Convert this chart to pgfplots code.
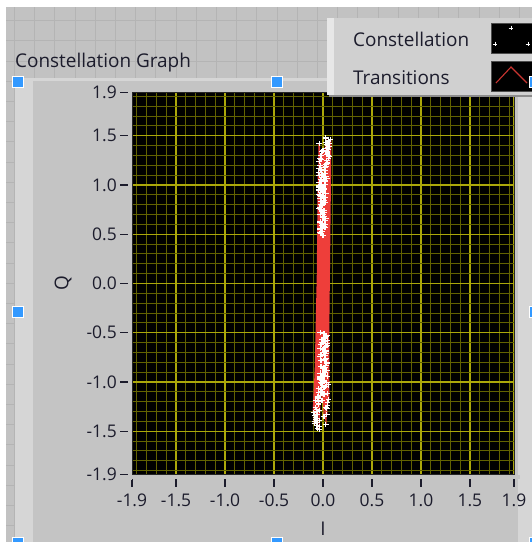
\documentclass[border=0pt]{standalone}
\usepackage{fontspec}
\setmainfont{Open Sans}
\usepackage{pgfplots}
\usepackage{pgfplotstable}
\pgfplotsset{compat=1.18}

\definecolor{windowbg}{RGB}{194,194,194}
\definecolor{windowgrid}{RGB}{180,180,180}
\definecolor{panelbg}{RGB}{196,196,196}
\definecolor{panellight}{RGB}{214,214,214}
\definecolor{legendbg}{RGB}{208,208,208}
\definecolor{labeltext}{RGB}{28,28,44}
\definecolor{gridmajor}{RGB}{172,168,10}
\definecolor{gridminor}{RGB}{98,98,0}
\definecolor{transred}{RGB}{238,62,58}
\definecolor{handleblue}{RGB}{51,153,255}

\newcommand\uifont{\fontsize{19}{22}\selectfont}
\newcommand\tickfont{\fontsize{17.5}{20}\selectfont}

% received symbols (I, Q), in the order they arrive
\pgfplotstableread{
I Q
0.02 1.05
-0.03 -0.91
0.05 1.33
0.01 -1.13
-0.04 0.76
0.03 -0.64
0.06 1.45
-0.07 -1.37
0.00 0.94
0.02 0.60
-0.01 -0.98
0.03 1.19
-0.05 -1.22
0.01 0.84
0.02 -0.55
-0.03 1.27
0.04 -0.80
-0.02 0.51
-0.09 -1.42
0.07 1.39
0.01 -1.06
-0.04 1.10
0.03 -0.71
0.00 0.67
-0.04 -1.29
0.05 1.23
-0.01 -0.60
-0.04 0.98
0.05 -0.94
0.03 1.48
-0.08 -1.19
-0.01 0.79
0.04 -1.33
-0.05 1.13
0.02 -0.85
0.02 0.57
-0.03 -0.50
0.00 1.35
-0.06 -1.47
-0.02 0.88
0.04 -1.01
0.06 1.30
0.00 -0.67
-0.03 0.63
-0.06 -1.15
0.02 1.04
0.03 -0.76
-0.04 1.42
-0.04 -1.39
0.01 0.72
0.05 -0.58
-0.02 1.16
-0.02 -1.08
0.03 0.91
-0.08 -1.26
-0.01 1.34
0.02 -0.90
-0.03 0.55
0.05 -1.21
0.08 1.46
-0.03 -0.74
-0.02 1.00
0.03 -1.43
0.02 0.82
-0.02 -0.62
-0.04 1.24
0.01 -0.99
0.03 0.66
-0.10 -1.31
0.02 1.15
0.04 -0.81
-0.03 0.77
-0.01 -1.10
0.05 1.40
0.02 -0.56
-0.05 0.95
-0.07 -1.44
0.03 1.21
0.03 -0.69
-0.01 0.59
-0.05 -1.17
0.04 1.07
0.00 -0.86
-0.02 1.30
0.06 -1.03
0.00 0.70
-0.08 -1.36
-0.03 0.86
0.02 -0.65
0.04 1.37
-0.03 -0.95
0.00 0.49
0.03 -1.26
-0.04 1.03
-0.02 -0.78
0.06 1.27
0.04 -0.53
-0.02 0.80
-0.05 -1.23
0.03 1.43
-0.01 1.11
0.01 0.96
-0.02 -0.72
0.05 -1.12
-0.03 0.62
0.07 1.42
-0.06 -1.33
0.01 0.74
0.02 -0.59
0.04 1.25
-0.09 -1.40
-0.04 0.90
0.00 -0.92
0.02 1.18
0.03 -1.05
-0.01 0.53
-0.03 -0.66
0.05 1.32
-0.07 -1.28
-0.02 0.83
0.03 -0.83
0.01 1.08
-0.01 -1.19
-0.03 0.70
0.05 -0.61
0.06 1.36
-0.04 -1.45
0.00 0.92
0.01 -0.51
-0.03 1.20
-0.02 -1.01
0.02 0.64
0.04 -0.88
0.03 1.47
-0.06 -1.16
-0.04 0.99
0.02 -0.73
0.07 1.29
-0.08 -1.38
0.01 0.58
-0.01 -0.57
-0.02 1.06
0.05 -1.24
0.02 0.87
-0.03 -0.97
0.04 1.41
-0.05 -1.11
-0.01 0.73
0.03 -0.68
-0.04 1.17
0.01 -1.35
0.02 1.01
-0.02 -0.84
-0.03 0.56
0.06 -1.18
0.05 1.34
-0.07 -1.30
0.00 0.81
0.04 -0.63
-0.02 1.26
-0.04 -1.48
0.01 0.68
0.01 -0.93
0.06 1.44
-0.05 -1.07
-0.03 0.89
0.03 -0.54
0.02 1.12
-0.09 -1.34
-0.01 0.61
0.02 -0.77
0.04 1.22
-0.03 -1.14
0.00 0.97
-0.06 -1.41
0.05 1.38
0.01 -0.70
-0.02 0.75
-0.01 -1.02
0.03 1.09
0.04 -1.27
-0.03 0.52
0.00 -0.60
0.04 1.31
-0.05 -1.20
}\symbols

\begin{document}
\begin{tikzpicture}
\path[use as bounding box] (0,0) rectangle (532bp,-542bp);

% front panel with its alignment grid
\begin{scope}[x=1bp,y=-1bp]
  \fill[white] (0,0) rectangle (532,542);
  \fill[windowbg] (6,7) rectangle (532,542);
  \foreach \gx in {14,34,54,75,95,115,135,155,176,196,216,236,256,277,297,317,337,357,378,398,418,438,458,479,499,519}
    \draw[windowgrid, line width=0.9bp] (\gx,7) -- (\gx,542);
  \foreach \gy in {20,40,61,81,101,121,141,162,182,202,222,242,263,283,303,323,343,364,384,404,424,444,465,485,505,525}
    \draw[windowgrid, line width=0.9bp] (6,\gy) -- (532,\gy);
  % graph control
  \fill[panelbg] (15,78) rectangle (532,542);
  \fill[panellight] (15,78) rectangle (33,542);
  \fill[panellight] (518,78) rectangle (532,542);
  \fill[panellight] (15,78) rectangle (532,81);
  \node[anchor=base west, font=\uifont, text=labeltext, inner sep=0pt] at (15,67) {Constellation Graph};
  \node[font=\uifont, text=labeltext, rotate=90] at (63,283) {Q};
  \node[font=\uifont, text=labeltext] at (323,529) {I};
\end{scope}

\begin{axis}[
  at={(132bp,-474.5bp)}, anchor=south west,
  scale only axis, width=382bp, height=382bp,
  xmin=-1.95, xmax=1.95, ymin=-1.94, ymax=1.94,
  axis background/.style={fill=black},
  axis line style={draw=black!85, line width=0.8bp},
  xtick={-1.95,-1.5,-1,-0.5,0,0.5,1,1.5,1.95},
  xticklabels={-1.9,-1.5,-1.0,-0.5,0.0,0.5,1.0,1.5,1.9},
  ytick={-1.94,-1.5,-1,-0.5,0,0.5,1,1.5,1.94},
  yticklabels={-1.9,-1.5,-1.0,-0.5,0.0,0.5,1.0,1.5,1.9},
  minor xtick={-1.9,-1.8,-1.7,-1.6,-1.4,-1.3,-1.2,-1.1,-0.9,-0.8,-0.7,-0.6,-0.4,-0.3,-0.2,-0.1,0.1,0.2,0.3,0.4,0.6,0.7,0.8,0.9,1.1,1.2,1.3,1.4,1.6,1.7,1.8,1.9},
  minor ytick={-1.9,-1.8,-1.7,-1.6,-1.4,-1.3,-1.2,-1.1,-0.9,-0.8,-0.7,-0.6,-0.4,-0.3,-0.2,-0.1,0.1,0.2,0.3,0.4,0.6,0.7,0.8,0.9,1.1,1.2,1.3,1.4,1.6,1.7,1.8,1.9},
  grid=both,
  major grid style={draw=gridmajor, line width=1.2bp},
  minor grid style={draw=gridminor, line width=1bp},
  tick align=outside,
  xtick pos=bottom, ytick pos=left,
  major tick length=12bp, minor tick length=0pt,
  tick style={draw=labeltext, line width=1.3bp},
  tick label style={font=\tickfont, text=labeltext, inner sep=0pt},
  xticklabel style={yshift=-7bp},
  yticklabel style={xshift=-3bp},
]
  % transitions between successive symbols
  \addplot[transred, line width=1.2bp] table[x=I, y=Q] {\symbols};
  % constellation points
  \addplot[only marks, mark=+, mark size=2.6bp, white, line width=1.1bp] table[x=I, y=Q] {\symbols};
\end{axis}

% gap between the scale marks and the plot area
\begin{scope}[x=1bp,y=-1bp]
  \fill[panelbg] (127.6,86) rectangle (131.5,480);
  \fill[panelbg] (126,475) rectangle (520,478.5);
\end{scope}

% plot legend
\begin{scope}[x=1bp,y=-1bp]
  \fill[black!45] (329,20) rectangle (532,97);
  \fill[legendbg] (327,18) rectangle (532,95);
  \fill[panellight!60!white] (327,18) rectangle (334,95);
  \node[anchor=base west, font=\uifont, text=labeltext, inner sep=0pt] at (353,46) {Constellation};
  \node[anchor=base west, font=\uifont, text=labeltext, inner sep=0pt] at (353,84.5) {Transitions};
\end{scope}

\begin{axis}[
  at={(491bp,-53bp)}, anchor=south west,
  scale only axis, width=41bp, height=30bp,
  xmin=0, xmax=41, ymin=0, ymax=30,
  axis background/.style={fill=black},
  axis line style={draw=black!70},
  ticks=none,
]
  \addplot[only marks, mark=+, mark size=2.3bp, white, line width=1bp] coordinates {(20,25) (4,9) (37,9)};
\end{axis}

\begin{axis}[
  at={(491bp,-91bp)}, anchor=south west,
  scale only axis, width=41bp, height=30bp,
  xmin=0, xmax=41, ymin=0, ymax=30,
  axis background/.style={fill=black},
  axis line style={draw=black!70},
  ticks=none,
]
  \addplot[transred!85!black, line width=1.1bp] coordinates {(5,8) (20,24) (36,8)};
\end{axis}

% selection handles
\begin{scope}[x=1bp,y=-1bp]
  \foreach \hx/\hy/\hw/\hh in {12.5/76.5/11/11, 271.5/76.5/11/11, 529/76.5/3/11, 12.5/306.5/11/11, 529/306.5/3/11, 12.5/537/11/5, 271.5/537/11/5, 529/537/3/5}
    \filldraw[fill=handleblue, draw=white, line width=1bp] (\hx,\hy) rectangle ++(\hw,\hh);
\end{scope}
\end{tikzpicture}
\end{document}
